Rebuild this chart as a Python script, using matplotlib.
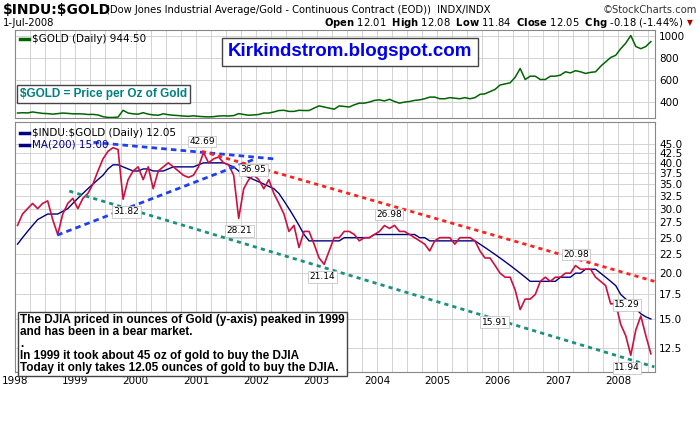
import matplotlib
matplotlib.use("Agg")
import matplotlib.pyplot as plt
import numpy as np
from matplotlib.ticker import FixedLocator, NullLocator, MultipleLocator

# monthly values Jan 1998 .. Jul 2008
ratio = [27,29,30,31,30,31,31.5,28,25.5,29,31,32,
         30,32,33,35,38,41,43,44,43.5,31.82,36,38,
         39,36,39,34,38,39,40,39,38,37,36.5,37,
         39,42.69,40,41,41.5,40,39.5,37,28.21,34,36,37,
         36,34,36,33,31,29,26,27,23.5,26,26,24,
         22,21.14,23,25,25,26,26,25.5,24.5,25,25,25.5,
         26,26.98,26.5,27,26,26,25.5,25,24.5,24,23,24.5,
         25,25,25,24,25,25,25,24.5,23,22,22,21,
         20,19.5,19.5,18,15.91,17,17,17.5,19,19.5,19,19.5,
         19.5,20,20,20.98,20.5,20.5,20.5,19.5,19,18.5,16.5,16.5,
         14.5,13.5,11.94,14,15.29,13.5,12.05]
ma200 = [24,25,26,27,28,28.5,29,29,29,29.5,30,31,
         32,33,34,35,36,37,38.5,39.5,39.5,39,38.5,38,
         38,38.5,38.5,38,38,38,38.5,39,39,39,39,39,
         39.5,40,40,40,40,40,39.5,39,38,37,36.5,36,
         35.5,35,34.5,34,33,31.5,30,28.5,27,25.5,24.5,24.5,
         24.5,24.5,24.5,24.5,24.5,25,25,25,25,25,25,25.5,
         25.5,25.5,25.5,25.5,25.5,25.5,25.5,25.5,25,25,24.5,24.5,
         24.5,24.5,24.5,24.5,24.5,24.5,24.5,24.5,24,23.5,23,22.5,
         22,21.5,21,20.5,20,19.5,19,19,19,19,19,19,
         19.5,19.5,19.5,20,20,20.5,20.5,20.5,20,19.5,19,18.5,
         17.5,17,16.5,16,15.5,15.2,15.0]
gold = [295,298,296,305,298,292,290,285,290,295,292,288,
        288,287,282,283,278,262,255,255,258,320,295,288,
        285,298,285,278,275,288,280,275,272,268,265,270,
        265,262,260,262,268,270,268,272,290,282,275,278,
        282,295,295,305,318,320,310,310,320,318,318,340,
        360,350,340,330,360,355,350,370,385,385,395,410,
        415,405,420,400,385,395,400,410,415,425,440,440,
        425,425,435,430,425,435,425,435,465,470,490,510,
        550,560,570,620,700,600,630,630,600,600,630,630,
        640,670,660,680,670,655,665,670,720,760,800,820,
        880,930,1000,900,880,900,944.5]
ratio_labels = [("42.69",2001.1,42.69,"above"),("36.95",2001.95,38.3,"mid"),
                ("31.82",1999.85,31.82,"below"),("28.21",2001.72,28.21,"below"),
                ("21.14",2003.1,21.14,"below"),("26.98",2004.2,26.98,"above"),
                ("15.91",2005.95,15.91,"below"),("20.98",2007.3,20.98,"above"),
                ("15.29",2008.15,15.29,"above"),("11.94",2008.15,11.94,"below")]
blue_upper = ([1999.3, 2002.3], [45.5, 41.0])
blue_lower = ([1998.7, 2001.95], [25.4, 40.8])
red_line = ([2001.1, 2008.6], [43.0, 19.0])
teal_line = ([1998.9, 2008.6], [33.5, 11.1])
years = list(range(1998, 2009))
ratio_ticks = [12.5,15.0,17.5,20.0,22.5,25.0,27.5,30.0,32.5,35.0,37.5,40.0,42.5,45.0]
gold_ticks = [400,600,800,1000]

x = 1998 + (np.arange(len(ratio)) + 0.5) / 12.0

fig = plt.figure(figsize=(7, 4.21), dpi=100)
fig.patch.set_facecolor("white")
L, R = 15/700, 655/700
ax1 = fig.add_axes([L, 1-118/421, R-L, 88/421])
ax2 = fig.add_axes([L, 1-372/421, R-L, 250/421])

for ax in (ax1, ax2):
    ax.set_xlim(1998.0, 2008.61)
    ax.xaxis.set_major_locator(FixedLocator(years))
    ax.xaxis.set_minor_locator(MultipleLocator(0.25))
    ax.grid(True, which="both", color="#cccccc", lw=0.6)
    ax.yaxis.tick_right()
    ax.tick_params(axis="both", which="both", length=0, labelsize=7.5, pad=3)
    for s in ax.spines.values():
        s.set_color("#888888")
        s.set_linewidth(0.8)

ax1.plot(x, gold, color="#006400", lw=1.1)
ax1.set_ylim(250, 1050)
ax1.yaxis.set_major_locator(FixedLocator(gold_ticks))
ax1.set_yticklabels([str(t) for t in gold_ticks])
ax1.set_xticklabels([])

ax2.set_yscale("log")
ax2.set_ylim(10.75, 51.7)
ax2.yaxis.set_major_locator(FixedLocator(ratio_ticks))
ax2.yaxis.set_minor_locator(NullLocator())
ax2.set_yticklabels(["%.1f" % t for t in ratio_ticks])
ax2.set_xticklabels([str(y) for y in years], fontsize=7.5)
ax2.plot(x, ma200, color="#000080", lw=1.0, zorder=3)
ax2.plot(x, ratio, color="#cc1040", lw=1.2, zorder=4)
ax2.plot(*blue_upper, color="#1f3ff0", lw=2, ls=(0, (2, 1.5)), zorder=5)
ax2.plot(*blue_lower, color="#1f3ff0", lw=2, ls=(0, (2, 1.5)), zorder=5)
ax2.plot(*red_line, color="#ff2020", lw=2, ls=(0, (1.5, 1.5)), zorder=5)
ax2.plot(*teal_line, color="#1a9080", lw=2, ls=(0, (1.5, 1.5)), zorder=5)

for txt, xv, yv, pos in ratio_labels:
    off = {"above": 8, "below": -9, "mid": 0}[pos]
    ax2.annotate(txt, (xv, yv), xytext=(0, off), textcoords="offset points",
                 ha="center", va="center", fontsize=6.5, zorder=6,
                 bbox=dict(boxstyle="square,pad=0.15", fc="white", ec="#bbbbbb", lw=0.5))

# legends
def legend_line(ax, y, color, label, tcolor="black"):
    ax.plot([0.008, 0.022], [y, y], transform=ax.transAxes, color=color, lw=2.5,
            clip_on=False, zorder=7)
    ax.text(0.027, y, label, transform=ax.transAxes, fontsize=7.5, va="center",
            color=tcolor, zorder=7)

legend_line(ax1, 0.9, "#006400", "\\$GOLD (Daily) 944.50")
legend_line(ax2, 0.955, "#000080", "\\$INDU:\\$GOLD (Daily) 12.05")
legend_line(ax2, 0.91, "#000080", "MA(200) 15.00", "#000080")

# header
fig.text(3/700, 1-10/421, "\\$INDU:\\$GOLD", fontsize=10, fontweight="bold", va="center")
fig.text(106/700, 1-10/421, "(Dow Jones Industrial Average/Gold - Continuous Contract (EOD))  INDX/INDX",
         fontsize=7.2, va="center")
fig.text(697/700, 1-10/421, "\u00a9StockCharts.com", fontsize=7.2, va="center", ha="right", color="#333333")
fig.text(3/700, 1-23/421, "1-Jul-2008", fontsize=7.2, va="center")
fig.text(683/700, 1-23/421,
         r"$\bf{Open}$ 12.01  $\bf{High}$ 12.08  $\bf{Low}$ 11.84  $\bf{Close}$ 12.05  $\bf{Chg}$ -0.18 (-1.44%)",
         fontsize=7.2, va="center", ha="right")
fig.text(690/700, 1-23/421, "\u25bc", fontsize=5.5, va="center", ha="center", color="#aa0000")

# annotation boxes
fig.text(350/700, 1-52/421, "Kirkindstrom.blogspot.com", fontsize=13.5, fontweight="bold",
         color="#0000ee", ha="center", va="center", family="Liberation Sans",
         bbox=dict(boxstyle="square,pad=0.3", fc="white", ec="#444444", lw=1))
fig.text(20/700, 1-94/421, "\\$GOLD = Price per Oz of Gold", fontsize=8.5, fontweight="bold",
         color="#008080", ha="left", va="center", family="Liberation Sans",
         bbox=dict(boxstyle="square,pad=0.25", fc="white", ec="#444444", lw=1))
fig.text(20/700, 1-344/421,
         "The DJIA priced in ounces of Gold (y-axis) peaked in 1999\n"
         "and has been in a bear market.\n.\n"
         "In 1999 it took about 45 oz of gold to buy the DJIA\n"
         "Today it only takes 12.05 ounces of gold to buy the DJIA.",
         fontsize=8.5, fontweight="bold", ha="left", va="center", family="Liberation Sans",
         linespacing=1.0,
         bbox=dict(boxstyle="square,pad=0.2", fc="white", ec="#444444", lw=1))

fig.savefig("out.png", dpi=100)
